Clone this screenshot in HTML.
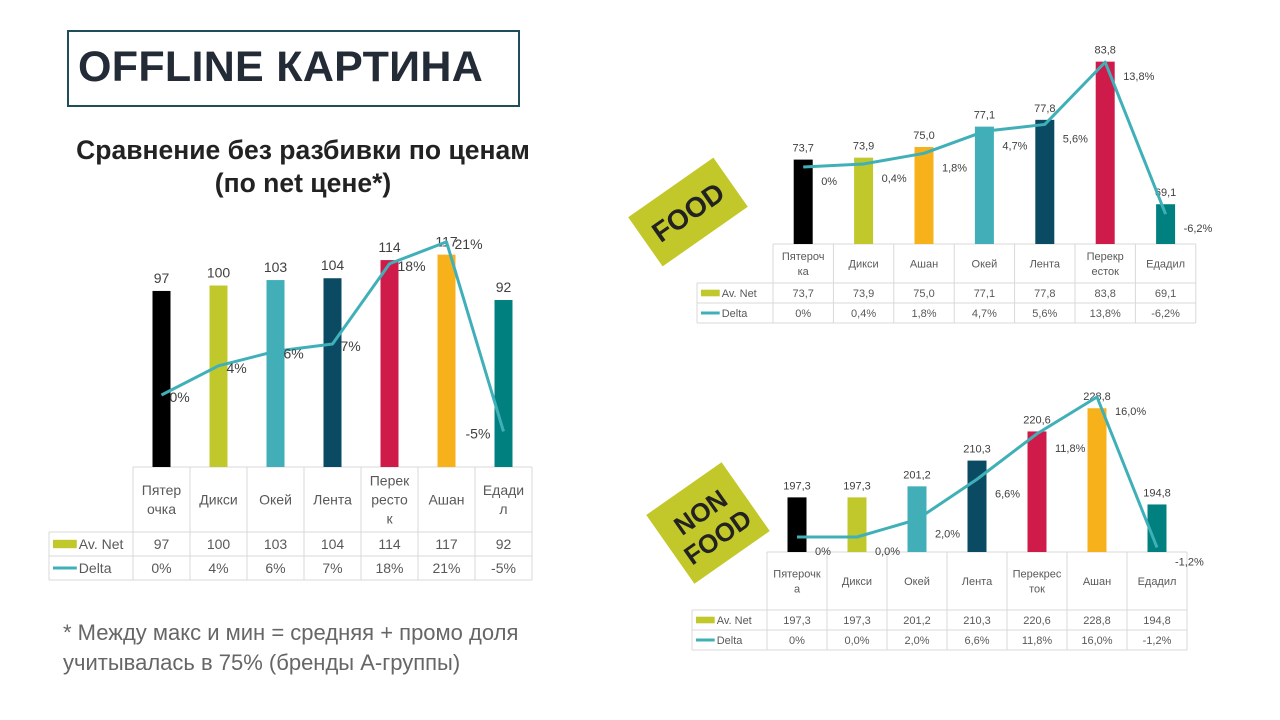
<!DOCTYPE html>
<html><head><meta charset="utf-8"><style>
body{margin:0;width:1280px;height:720px;background:#fff;overflow:hidden;position:relative;font-family:"Liberation Sans",sans-serif}
.t{position:absolute}
</style></head><body>
<div class="t" style="left:67px;top:30px;width:449px;height:73px;border:2px solid #1d4e5a;"></div>
<div class="t" style="left:78px;top:43px;font-size:43px;font-weight:bold;color:#222b36;letter-spacing:0.3px">OFFLINE КАРТИНА</div>
<div class="t" style="left:33px;top:134px;width:540px;text-align:center;font-size:26.5px;font-weight:bold;color:#222;line-height:33px">Сравнение без разбивки по ценам<br>(по net цене*)</div>
<div class="t" style="left:63px;top:618px;font-size:22px;color:#666;line-height:30px">* Между макс и мин = средняя + промо доля<br>учитывалась в 75% (бренды А-группы)</div>
<svg id="svg" width="1280" height="720" style="position:absolute;left:0;top:0">
<rect x="-52" y="-30" width="104" height="60" fill="#c3c82a" transform="translate(688,212) rotate(-35)"/>
<text x="0" y="10" text-anchor="middle" font-size="28" font-weight="bold" fill="#222" transform="translate(688,212) rotate(-35)">FOOD</text>
<rect x="-46" y="-42" width="92" height="84" fill="#c3c82a" transform="translate(708,523) rotate(-35)"/>
<text x="0" y="-4" text-anchor="middle" font-size="26" font-weight="bold" fill="#222" transform="translate(708,523) rotate(-35)"><tspan x="0">NON</tspan><tspan x="0" dy="30">FOOD</tspan></text>
</svg>
<script>
// Main chart
const mainCats=["Пятер|очка","Дикси","Окей","Лента","Перек|ресто|к","Ашан","Едади|л"];
const mainNet=[97,100,103,104,114,117,92];
const mainDelta=[0,4,6,7,18,21,-5];
const mainNetLbl=["97","100","103","104","114","117","92"];
const mainDeltaLbl=["0%","4%","6%","7%","18%","21%","-5%"];
const mainColors=["#000000","#c1c82b","#42aeb8","#0b4a63","#cf1b4a","#f7b11b","#00807f"];
// Food chart
const foodCats=["Пятероч|ка","Дикси","Ашан","Окей","Лента","Перекр|есток","Едадил"];
const foodNet=[73.7,73.9,75.0,77.1,77.8,83.8,69.1];
const foodDelta=[0,0.4,1.8,4.7,5.6,13.8,-6.2];
const foodNetLbl=["73,7","73,9","75,0","77,1","77,8","83,8","69,1"];
const foodDeltaLbl=["0%","0,4%","1,8%","4,7%","5,6%","13,8%","-6,2%"];
const foodColors=["#000000","#c1c82b","#f7b11b","#42aeb8","#0b4a63","#cf1b4a","#00807f"];
// Non-food chart
const nfCats=["Пятерочк|а","Дикси","Окей","Лента","Перекрес|ток","Ашан","Едадил"];
const nfNet=[197.3,197.3,201.2,210.3,220.6,228.8,194.8];
const nfDelta=[0,0,2.0,6.6,11.8,16.0,-1.2];
const nfNetLbl=["197,3","197,3","201,2","210,3","220,6","228,8","194,8"];
const nfDeltaLbl=["0%","0,0%","2,0%","6,6%","11,8%","16,0%","-1,2%"];
const nfColors=["#000000","#c1c82b","#42aeb8","#0b4a63","#cf1b4a","#f7b11b","#00807f"];

const svg=document.getElementById('svg');
const NS="http://www.w3.org/2000/svg";
function mk(tag,attrs,txt){const e=document.createElementNS(NS,tag);for(const k in attrs)e.setAttribute(k,attrs[k]);if(txt!==undefined)e.textContent=txt;svg.appendChild(e);return e;}

function draw(c,cats,net,delta,netL,deltaL,colors){
  const yBar=v=>c.base-(v-c.vmin)*c.vs;
  const yLine=d=>c.d0-d*c.ds;
  const xC=i=>c.x0+c.cw*(i+0.5);
  const n=cats.length;
  const tx1=c.x0+c.cw*n;
  const g="#d9d9d9";
  let e;
  e=mk('line',{x1:c.x0,y1:c.base,x2:tx1,y2:c.base,stroke:g});
  
  for(const y of [c.r1,c.r2,c.r3]){e=mk('line',{x1:c.lx,y1:y,x2:tx1,y2:y,stroke:g});}
  e=mk('line',{x1:c.lx,y1:c.r1,x2:c.lx,y2:c.r3,stroke:g});
  for(let i=0;i<=n;i++){e=mk('line',{x1:c.x0+c.cw*i,y1:c.base,x2:c.x0+c.cw*i,y2:c.r3,stroke:g});}
  const m1=(c.r1+c.r2)/2,m2=(c.r2+c.r3)/2;
  e=mk('rect',{x:c.lx+4,y:m1-c.fs*0.3,width:c.fs*1.7,height:c.fs*0.6,fill:"#c1c82b"});
  e=mk('text',{x:c.lx+6+c.fs*1.7,y:m1+c.fs*0.35,'font-size':c.fs,fill:"#595959"},"Av. Net");
  e=mk('line',{x1:c.lx+4,y1:m2,x2:c.lx+4+c.fs*1.7,y2:m2,stroke:"#40b0b8",'stroke-width':3});
  e=mk('text',{x:c.lx+6+c.fs*1.7,y:m2+c.fs*0.35,'font-size':c.fs,fill:"#595959"},"Delta");
  for(let i=0;i<n;i++){
    const x=xC(i),top=yBar(net[i]);
    e=mk('rect',{x:x-c.bw/2,y:top,width:c.bw,height:c.base-top,fill:colors[i]});
    
    e=mk('text',{x:x,y:top-8,'text-anchor':'middle','font-size':c.fs,fill:"#404040"},netL[i]);
    
    const parts=cats[i].split('|');const hm=(c.base+c.r1)/2;const lh=c.fs*1.35;
    parts.forEach((p,k)=>{e=mk('text',{x:x,y:hm+(k-(parts.length-1)/2)*lh+c.fs*0.35,'text-anchor':'middle','font-size':c.fs,fill:"#595959"},p);
      });
    e=mk('text',{x:x,y:m1+c.fs*0.35,'text-anchor':'middle','font-size':c.fs,fill:"#595959"},netL[i]);
    
    e=mk('text',{x:x,y:m2+c.fs*0.35,'text-anchor':'middle','font-size':c.fs,fill:"#595959"},deltaL[i]);
    
  }
  const pts=delta.map((d,i)=>xC(i)+','+yLine(d)).join(' ');
  e=mk('polyline',{points:pts,fill:'none',stroke:'#40b0b8','stroke-width':3,'stroke-linejoin':'round'});
  
  for(let i=0;i<n;i++){
    const dx=(i==n-1&&c.p=='main')?-38:c.ldx;
    e=mk('text',{x:xC(i)+dx,y:yLine(delta[i])+c.ldy,'font-size':c.fs,fill:"#404040"},deltaL[i]);
    
  }
}
draw({p:'main',x0:133,cw:57,lx:49,base:467,vmin:0,vs:1.815,d0:395,ds:7.29,bw:18,r1:532,r2:556,r3:580,fs:14,ldx:8,ldy:7},mainCats,mainNet,mainDelta,mainNetLbl,mainDeltaLbl,mainColors);
draw({p:'food',x0:773,cw:60.4,lx:697,base:244,vmin:65,vs:9.7,d0:167,ds:7.6,bw:19,r1:283,r2:303,r3:323,fs:11,ldx:18,ldy:18},foodCats,foodNet,foodDelta,foodNetLbl,foodDeltaLbl,foodColors);
draw({p:'nonfood',x0:767,cw:60,lx:692,base:552,vmin:178,vs:2.83,d0:537,ds:8.75,bw:19,r1:610,r2:630,r3:650,fs:11,ldx:18,ldy:18},nfCats,nfNet,nfDelta,nfNetLbl,nfDeltaLbl,nfColors);
</script>
</body></html>
